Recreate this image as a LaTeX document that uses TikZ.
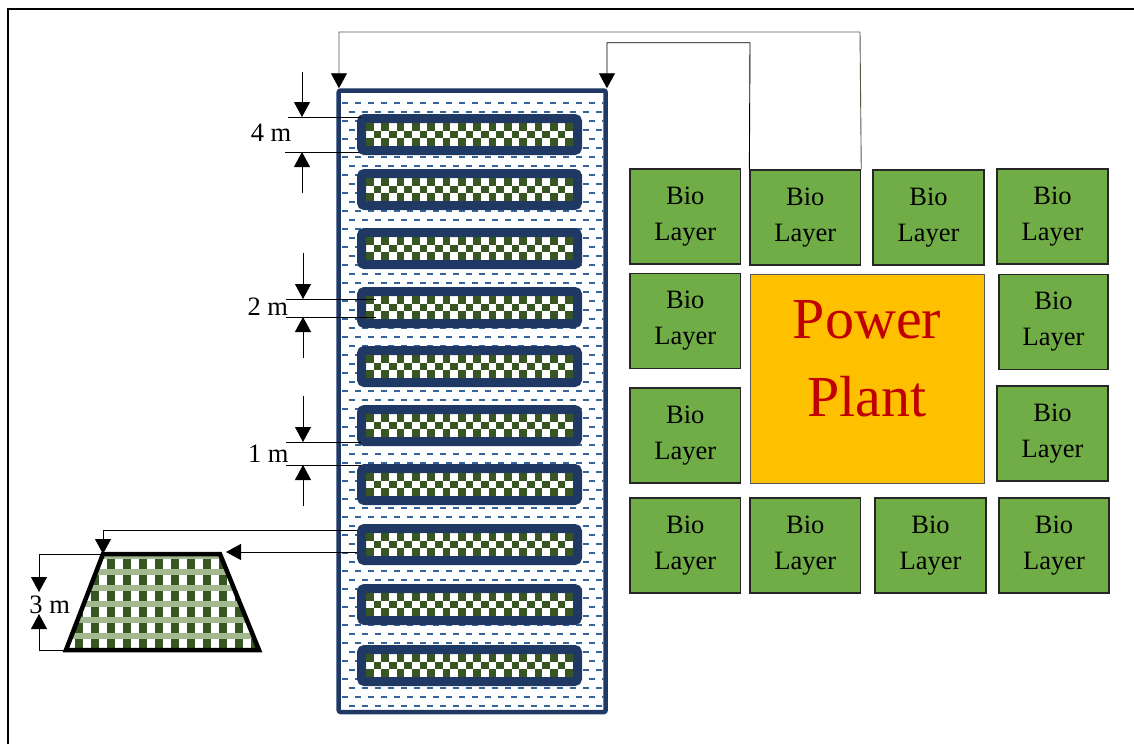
\documentclass[tikz,border=0pt]{standalone}
\usepackage{fontspec}
\setmainfont{Liberation Serif}
\usetikzlibrary{arrows.meta}
\definecolor{navy}{HTML}{203864}
\definecolor{dashblue}{HTML}{33659A}
\definecolor{dkgreen}{HTML}{375623}
\definecolor{ltgreen}{HTML}{A3BA90}
\definecolor{biogreen}{HTML}{70AD47}
\definecolor{ppyellow}{HTML}{FFC000}
\definecolor{ppred}{HTML}{C00000}
\definecolor{conngray}{HTML}{4D5D45}
\begin{document}
\begin{tikzpicture}[x=1pt,y=-1pt,
  bio/.style={draw=black!85,line width=1.2pt,fill=biogreen,inner sep=0pt,
    minimum width=#1,minimum height=95pt,align=center,
    font=\fontsize{26.5pt}{36pt}\selectfont},
  bio/.default=110.7pt,
  ppbox/.style={draw=black!65,line width=1pt,fill=ppyellow,inner sep=0pt,
    minimum width=234pt,minimum height=209pt},
  pptext/.style={text=ppred,align=center,inner sep=0pt,
    font=\fontsize{58pt}{78pt}\selectfont},
  tankbox/.style={draw=navy,line width=4.5pt,fill=white,rounded corners=2pt,
    inner sep=0pt,minimum width=267pt,minimum height=621.5pt},
  barbox/.style={draw=navy,line width=9pt,fill=white,rounded corners=3pt,
    inner sep=0pt,minimum width=216pt,minimum height=32pt},
  tip/.style={-{Triangle[length=15pt,width=16pt,color=black,fill=black]}},
  conn/.style={line width=0.9pt,tip},
  dimarrow/.style={line width=0.9pt,tip},
  dimline/.style={line width=0.9pt},
  dimlabel/.style={anchor=base,inner sep=0pt,font=\fontsize{26.5pt}{30pt}\selectfont}
]
\useasboundingbox (0,0) rectangle (1134,744);
% outer frame
\draw[line width=2pt] (8,744) -- (8,9) -- (1134,9);

% tank
\node[tankbox] (tank) at (472.2,401.25) {};
\begin{scope}
  \clip (341,92.8) rectangle (603.4,709.7);
  \foreach \r in {0,...,67} {
    \pgfmathsetmacro\yy{103+9*\r}
    \pgfmathsetmacro\ph{mod(\r,2)*6.5}
    \draw[dashblue,line width=2pt,dash pattern=on 6pt off 7pt,dash phase=\ph pt]
      (342,\yy) -- (604,\yy);
  }
\end{scope}

% bars
\foreach \k/\t in {1/114,2/169,3/228,4/287,5/346,6/405,7/464,8/524,9/584,10/645} {
  \node[barbox] (bar\k) at (469.5,\t+20.5) {};
  \foreach \j in {0,2} {
    \foreach \i in {0,2,...,26} {
      \fill[dkgreen] (366+\i*7.667,\t+9+\j*7.667) rectangle ++(7.667,7.667);
    }
  }
  \foreach \i in {1,3,...,25} {
    \fill[dkgreen] (366+\i*7.667,\t+16.667) rectangle ++(7.667,7.667);
  }
}

% bio layers and power plant
\node[bio] (bioA) at (685.3,216.5) {Bio\\Layer};
\node[bio] (bioB) at (805.3,217.5) {Bio\\Layer};
\node[bio=111pt] (bioC) at (928.5,217.5) {Bio\\Layer};
\node[bio=111pt] (bioD) at (1052.5,216.5) {Bio\\Layer};
\node[bio] (bioE) at (685.3,321) {Bio\\Layer};
\node[bio=109pt] (bioF) at (1053.5,322) {Bio\\Layer};
\node[bio] (bioG) at (685.3,435.5) {Bio\\Layer};
\node[bio=111pt] (bioH) at (1052.5,433.5) {Bio\\Layer};
\node[bio] (bioI) at (685.3,545.5) {Bio\\Layer};
\node[bio] (bioJ) at (805.3,545.5) {Bio\\Layer};
\node[bio=111pt] (bioK) at (930.5,545.5) {Bio\\Layer};
\node[bio=110pt] (bioL) at (1054,545.5) {Bio\\Layer};
\node[ppbox] (pp) at (867,378.5) {};
\node[pptext] (ppt) at ([yshift=19.7pt]pp.center) {Power\\Plant};

% trapezoid
\coordinate (ttl) at (103,554);
\coordinate (ttr) at (220,554);
\coordinate (tbr) at (259,650);
\coordinate (tbl) at (66,650);
\begin{scope}
  \clip (tbl) -- (ttl) -- (ttr) -- (tbr) -- cycle;
  \fill[white] (50,540) rectangle (270,660);
  \foreach \j in {0,...,7} {
    \fill[ltgreen] (50,553+16*\j) rectangle ++(220,6);
    \foreach \i in {0,...,13} {
      \fill[dkgreen] (59+16*\i,543+16*\j) rectangle ++(7.5,10);
    }
  }
\end{scope}
\draw[line width=4.5pt] (tbl) -- (ttl) -- (ttr) -- (tbr) -- cycle;

% connectors from bio layer to tank
\coordinate (k1) at (750,42.7);
\coordinate (k2) at (860,32);
\draw[conn] (bioB.north west) -- (k1) -| ([xshift=-1pt]tank.north east);
\draw[conn,draw=conngray] (bioB.north east) -- (k2) -| ([xshift=2.5pt]tank.north west);

% connectors from tank to trapezoid
\coordinate (tin) at (226,552);
\draw[conn] ([yshift=14.5pt]bar8.west) -| (ttl);
\draw[conn] ([yshift=-7.5pt]bar8.west) -- (tin);

% dimension 4 m
\coordinate (d4s) at (302,72);
\coordinate (d4t) at (302,117);
\coordinate (d4b) at (302,152);
\coordinate (d4e) at (302,193);
\draw[dimline] ([xshift=-14pt]d4t) -- ([xshift=59pt]d4t);
\draw[dimline] ([xshift=-17pt]d4b) -- ([xshift=57pt]d4b);
\draw[dimarrow] (d4s) -- (d4t);
\draw[dimarrow] (d4e) -- (d4b);
\node[dimlabel] (l4) at (271,141) {4 m};

% dimension 2 m
\coordinate (d2s) at (303,253);
\coordinate (d2t) at (303,299);
\coordinate (d2b) at (303,317);
\coordinate (d2e) at (303,358);
\draw[dimline] ([xshift=-17pt]d2t) -- ([xshift=73pt]d2t);
\draw[dimline] ([xshift=-17pt]d2b) -- ([xshift=73pt]d2b);
\draw[dimarrow] (d2s) -- (d2t);
\draw[dimarrow] (d2e) -- (d2b);
\node[dimlabel] (l2) at (267.8,315) {2 m};

% dimension 1 m
\coordinate (d1s) at (303,396);
\coordinate (d1t) at (303,442);
\coordinate (d1b) at (303,465);
\coordinate (d1e) at (303,506);
\draw[dimline] ([xshift=-17pt]d1t) -- ([xshift=58pt]d1t);
\draw[dimline] ([xshift=-17pt]d1b) -- ([xshift=58pt]d1b);
\draw[dimarrow] (d1s) -- (d1t);
\draw[dimarrow] (d1e) -- (d1b);
\node[dimlabel] (l1) at (268.3,462.7) {1 m};

% dimension 3 m
\coordinate (d3s) at (39,554);
\coordinate (d3t) at (39,592);
\coordinate (d3b) at (39,614);
\coordinate (d3e) at (39,650);
\draw[dimline] (d3s) -- (ttl);
\draw[dimline] (d3e) -- ([xshift=53pt]d3e);
\draw[dimarrow] (d3s) -- (d3t);
\draw[dimarrow] (d3e) -- (d3b);
\node[dimlabel] (l3) at (49.7,613) {3 m};
\end{tikzpicture}
\end{document}
